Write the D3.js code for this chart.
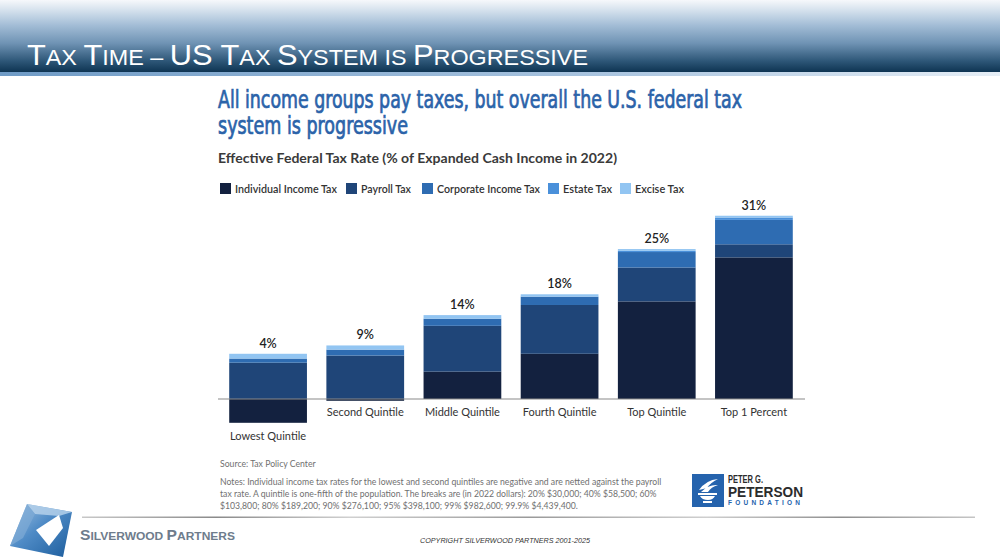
<!DOCTYPE html>
<html><head><meta charset="utf-8">
<script src="https://cdn.jsdelivr.net/npm/d3@7"></script>
<style>html,body{margin:0;padding:0;background:#fff;}svg{display:block;}</style>
</head><body>
<svg id="c" width="1000" height="560"></svg>
<script>
const categories = ["Lowest Quintile","Second Quintile","Middle Quintile","Fourth Quintile","Top Quintile","Top 1 Percent"];
const seriesNames = ["Individual Income Tax","Payroll Tax","Corporate Income Tax","Estate Tax","Excise Tax"];
const individual = [-4.0, -0.3, 4.6, 7.6, 16.4, 23.8];
const payroll    = [6.1, 7.3, 7.7, 8.2, 5.7, 2.2];
const corporate  = [0.7, 1.0, 1.2, 1.4, 2.6, 4.1];
const estate     = [0.0, 0.0, 0.0, 0.0, 0.2, 0.4];
const excise     = [0.8, 0.7, 0.6, 0.4, 0.3, 0.3];
const totalLabels = ["4%","9%","14%","18%","25%","31%"];
const colors = ["#13213f","#1f4578","#2e6cb2","#4a90da","#92c5f2"];

const svg = d3.select("#c");
const defs = svg.append("defs");

// ---------- Header banner ----------
const hg = defs.append("linearGradient").attr("id","hdr").attr("x1",0).attr("y1",0).attr("x2",0).attr("y2",1);
[[0,"#f6f8fb"],[0.15,"#d3e0ec"],[0.35,"#a3bdd6"],[0.6,"#6f93b4"],[0.85,"#2d5677"],[1,"#0e3452"]]
  .forEach(s=>hg.append("stop").attr("offset",s[0]).attr("stop-color",s[1]));
svg.append("rect").attr("x",0).attr("y",0).attr("width",1000).attr("height",72).attr("fill","url(#hdr)");
const sg = defs.append("linearGradient").attr("id","strip").attr("x1",0).attr("y1",0).attr("x2",1).attr("y2",0);
[[0,"#6f9bc6"],[0.6,"#a9c4df"],[1,"#e6eef6"]].forEach(s=>sg.append("stop").attr("offset",s[0]).attr("stop-color",s[1]));
svg.append("rect").attr("x",0).attr("y",72).attr("width",1000).attr("height",4).attr("fill","url(#strip)");

const ht = svg.append("text").attr("x",27).attr("y",65)
  .attr("font-family","'Liberation Sans Narrow','Liberation Sans',Arial,sans-serif")
  .attr("fill","#fff").attr("textLength",561).attr("lengthAdjust","spacingAndGlyphs");
[["T",29],["AX ",22],["T",29],["IME – ",22],["US ",29],["T",29],["AX ",22],["S",29],["YSTEM IS ",22],["P",29],["ROGRESSIVE",22]]
  .forEach(p=>ht.append("tspan").attr("font-size",p[1]).text(p[0]));

// ---------- Titles ----------
const condensed = "'Liberation Sans Narrow','DejaVu Sans Condensed','DejaVu Sans',sans-serif";
svg.append("text").attr("x",218).attr("y",108).attr("font-family",condensed).attr("font-stretch","condensed").attr("font-size",24).attr("font-weight",400)
  .attr("fill","#2b63a9").attr("stroke","#2b63a9").attr("stroke-width",0.7).attr("textLength",524).attr("lengthAdjust","spacingAndGlyphs")
  .text("All income groups pay taxes, but overall the U.S. federal tax");
svg.append("text").attr("x",218).attr("y",134).attr("font-family",condensed).attr("font-stretch","condensed").attr("font-size",24).attr("font-weight",400)
  .attr("fill","#2b63a9").attr("stroke","#2b63a9").attr("stroke-width",0.7).attr("textLength",190).attr("lengthAdjust","spacingAndGlyphs")
  .text("system is progressive");
svg.append("text").attr("x",218).attr("y",163).attr("font-family","Lato,sans-serif").attr("font-size",14).attr("font-weight",700)
  .attr("fill","#3a3a3a").attr("textLength",399).attr("lengthAdjust","spacingAndGlyphs")
  .text("Effective Federal Tax Rate (% of Expanded Cash Income in 2022)");

// ---------- Legend ----------
const legendX = [220,346,422,548,620];
const legendW = [102,50,103,49,49];
const lg = svg.append("g");
seriesNames.forEach((n,i)=>{
  lg.append("rect").attr("x",legendX[i]).attr("y",183).attr("width",11).attr("height",11).attr("fill",colors[i]);
  lg.append("text").attr("x",legendX[i]+15).attr("y",193).attr("font-family","Lato,sans-serif").attr("font-size",11)
    .attr("font-weight",600).attr("fill","#333").attr("textLength",legendW[i]).attr("lengthAdjust","spacingAndGlyphs").text(n);
});

// ---------- Chart ----------
const k = 5.95, base = 399;
const y = d3.scaleLinear().domain([-5, 32]).range([base + 5*k, base - 32*k]);
const x = d3.scaleBand().domain(categories).range([219.5, 802.5]).paddingInner(0.2).paddingOuter(0.1);

const rows = categories.map((c,i)=>({cat:c, "Individual Income Tax":individual[i], "Payroll Tax":payroll[i],
  "Corporate Income Tax":corporate[i], "Estate Tax":estate[i], "Excise Tax":excise[i]}));
const stack = d3.stack().keys(seriesNames).offset(d3.stackOffsetDiverging);
const layers = stack(rows);

const g = svg.append("g");
layers.forEach((layer,li)=>{
  g.selectAll(null).data(layer).enter().append("rect")
    .attr("x",d=>x(d.data.cat)).attr("width",x.bandwidth())
    .attr("y",d=>y(Math.max(d[0],d[1]))).attr("height",d=>Math.abs(y(d[0])-y(d[1])))
    .attr("fill",colors[li]);
});

// baseline axis
const ax = svg.append("g").attr("transform",`translate(0,${y(0)})`).call(d3.axisBottom(x).tickSize(0).tickFormat(""));
ax.select(".domain").remove();
svg.append("line").attr("x1",218).attr("x2",805).attr("y1",y(0)).attr("y2",y(0)).attr("stroke","#8a8a8a").attr("stroke-width",1.2);

// value labels
const tops = rows.map(r=>d3.sum(seriesNames, s=>Math.max(0,r[s])));
const bottoms = rows.map(r=>d3.sum(seriesNames, s=>Math.min(0,r[s])));
categories.forEach((c,i)=>{
  svg.append("text").attr("x",x(c)+x.bandwidth()/2).attr("y",y(tops[i])-6).attr("text-anchor","middle")
    .attr("font-family","Lato,sans-serif").attr("font-size",12.5).attr("font-weight",600).attr("fill","#222").text(totalLabels[i]);
  const below = bottoms[i] < -1;
  svg.append("text").attr("x",x(c)+x.bandwidth()/2).attr("y", below ? y(bottoms[i])+17 : y(0)+17)
    .attr("text-anchor","middle").attr("font-family","Lato,sans-serif").attr("font-size",11).attr("fill","#333").text(c);
});

// ---------- Notes ----------
const noteLines = [
  "Notes: Individual income tax rates for the lowest and second quintiles are negative and are netted against the payroll",
  "tax rate. A quintile is one-fifth of the population. The breaks are (in 2022 dollars): 20% $30,000; 40% $58,500; 60%",
  "$103,800; 80% $189,200; 90% $276,100; 95% $398,100; 99% $982,600; 99.9% $4,439,400."
];
const probe = svg.append("text").attr("font-family","Lato,sans-serif").attr("font-size",10).text(noteLines[0]);
const noteSize = 10 * 442 / probe.node().getComputedTextLength();
probe.remove();
const note = (t,yy)=>svg.append("text").attr("x",220).attr("y",yy).attr("font-family","Lato,sans-serif").attr("font-size",noteSize)
  .attr("fill","#707070").text(t);
note("Source: Tax Policy Center",467);
noteLines.forEach((t,i)=>note(t,485+i*12));

// ---------- Peterson logo ----------
const pl = svg.append("g");
pl.append("rect").attr("x",692).attr("y",474).attr("width",32).attr("height",33).attr("fill","#2563ad");
pl.append("path").attr("d","M699,490 Q706,480 718,479 Q710,483 707,488 Z M701,492 Q709,484 718,485 Q711,487 708,492 Z").attr("fill","#fff");
pl.append("path").attr("d","M698,493 H717 V495 H698 Z M700,496 H715 Q713,500 708,500 Q702,500 700,496 Z M703,501 H712 V503 H703 Z").attr("fill","#fff");
pl.append("text").attr("x",728).attr("y",483).attr("font-family","'Liberation Sans',Arial,sans-serif").attr("font-size",10.5).attr("font-weight",700)
  .attr("fill","#2b2b2b").attr("textLength",35).attr("lengthAdjust","spacingAndGlyphs").text("PETER G.");
pl.append("text").attr("x",728).attr("y",497).attr("font-family","'Liberation Sans',Arial,sans-serif").attr("font-size",14.5).attr("font-weight",700)
  .attr("fill","#2b2b2b").attr("textLength",75).attr("lengthAdjust","spacingAndGlyphs").text("PETERSON");
pl.append("text").attr("x",728).attr("y",505).attr("font-family","'Liberation Sans',Arial,sans-serif").attr("font-size",6.5).attr("font-weight",700)
  .attr("fill","#2563ad").attr("textLength",72).attr("lengthAdjust","spacing").text("FOUNDATION");

// ---------- Footer ----------
const fg = defs.append("linearGradient").attr("id","fl").attr("x1",0).attr("y1",0).attr("x2",1).attr("y2",0);
[[0,"#c8c8c8"],[0.15,"#8a8a8a"],[0.3,"#d0d0d0"],[0.5,"#9a9a9a"],[0.7,"#cfcfcf"],[0.85,"#8f8f8f"],[1,"#c5c5c5"]]
  .forEach(s=>fg.append("stop").attr("offset",s[0]).attr("stop-color",s[1]));
svg.append("rect").attr("x",82).attr("y",516.5).attr("width",893).attr("height",1.5).attr("fill","url(#fl)");

const lgd = defs.append("linearGradient").attr("id","sw").attr("x1",0).attr("y1",0).attr("x2",1).attr("y2",1);
[[0,"#a6c6e3"],[0.45,"#4f8bc6"],[1,"#1b5c9c"]].forEach(s=>lgd.append("stop").attr("offset",s[0]).attr("stop-color",s[1]));
svg.append("path").attr("d","M27,504 L72,512 L63,557 L10,546 Z").attr("fill","url(#sw)");
svg.append("path").attr("d","M27,504 L72,512 L59,516 L35,514 Z").attr("fill","#b4d0ea").attr("opacity",0.85);
svg.append("path").attr("d","M10,546 L27,504 L35,514 L23,538 Z").attr("fill","#7fabd6").attr("opacity",0.7);
svg.append("path").attr("d","M36,530 L59,515 L63,528 L49,546 Z").attr("fill","#fff");

svg.append("text").attr("x",80).attr("y",540).attr("font-family","'Liberation Sans',Arial,sans-serif").attr("font-weight",700)
  .attr("fill","#6e7c8c").attr("textLength",155).attr("lengthAdjust","spacingAndGlyphs")
  .call(t=>{[["S",15],["ILVERWOOD ",11.5],["P",15],["ARTNERS",11.5]].forEach(p=>t.append("tspan").attr("font-size",p[1]).text(p[0]));});

svg.append("text").attr("x",420).attr("y",543).attr("font-family","'Liberation Sans',Arial,sans-serif").attr("font-size",7)
  .attr("font-style","italic").attr("fill","#333").attr("textLength",170).attr("lengthAdjust","spacingAndGlyphs")
  .text("COPYRIGHT SILVERWOOD PARTNERS 2001-2025");
</script>
</body></html>
